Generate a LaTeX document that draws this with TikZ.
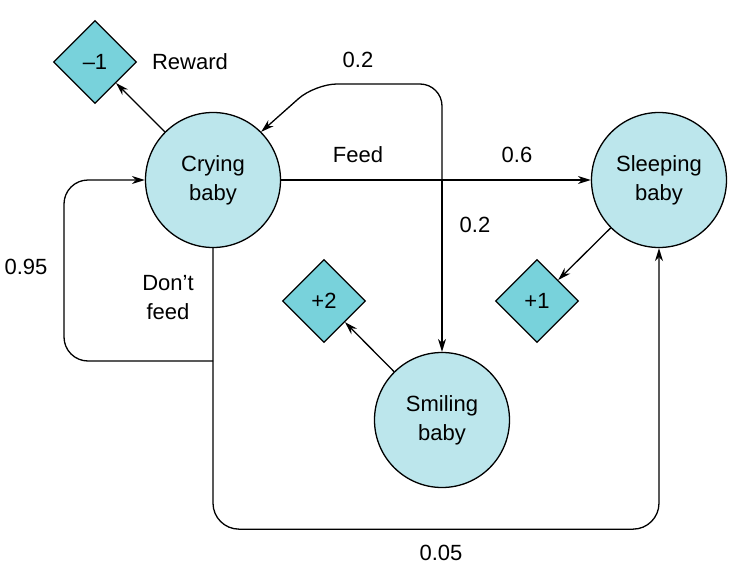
\documentclass[tikz,border=0pt]{standalone}
\usepackage{fontspec}
\setmainfont{Liberation Sans}
\usetikzlibrary{shapes.geometric,arrows.meta}
\definecolor{babyfill}{RGB}{188,230,236}
\definecolor{rewardfill}{RGB}{120,210,219}
\begin{document}
\begin{tikzpicture}[x=1pt,y=-1pt,line width=1.3pt,
	state/.style={circle,draw,fill=babyfill,minimum size=135pt,inner sep=0pt,align=center,font=\fontsize{22}{29}\selectfont},
	reward/.style={diamond,draw,fill=rewardfill,minimum size=83pt,inner sep=0pt,font=\fontsize{22}{29}\selectfont},
	lbl/.style={align=center,font=\fontsize{22}{29}\selectfont},
	arr/.style={-{Stealth[length=13pt,width=8pt]}}]
						\useasboundingbox (0,0) rectangle (740,581);
						% states
						\node[state] (crying) at (213,180) {Crying\\baby};
						\node[state] (sleeping) at (659,180) {Sleeping\\baby};
						\node[state] (smiling) at (442,420) {Smiling\\baby};
						% rewards
						\node[reward] (minusone) at (95,62) {\textendash 1};
						\node[reward] (plustwo) at (324,301) {+2};
						\node[reward] (plusone) at (537,301) {+1};
						\draw[arr] (crying) -- (minusone);
						\draw[arr] (smiling) -- (plustwo);
						\draw[arr] (sleeping) -- (plusone);
						% feed
						\coordinate (feedsplit) at (442,180);
						\coordinate (feedtop) at (442,84);
						\coordinate (feedleft) at (315,84);
						\draw[arr] (crying.east) -- (sleeping.west);
						\draw[arr] (feedsplit) -- (smiling.north);
						\draw[arr,rounded corners=22pt] (feedsplit) -- (feedtop) -- (feedleft) -- (crying.45);
						% don't feed
						\coordinate (dontfeed) at (213,361);
						\draw[arr,rounded corners=24pt] (dontfeed) -| (64,180) -- (crying.west);
						\draw[arr,rounded corners=26pt] (crying.south) -- ++(0,281) -| (sleeping.south);
						% labels
						\node[lbl] (rewardlbl) at (190,62) {Reward};
						\node[lbl] (p02top) at (358,60) {0.2};
						\node[lbl] (feedlbl) at (358,155) {Feed};
						\node[lbl] (p06) at (517,155) {0.6};
						\node[lbl] (p02mid) at (475,225) {0.2};
						\node[lbl] (p095) at (26,267) {0.95};
						\node[lbl] (dontlbl) at (168,298) {Don’t\\feed};
						\node[lbl] (p005) at (441,553) {0.05};
					\end{tikzpicture}
\end{document}
